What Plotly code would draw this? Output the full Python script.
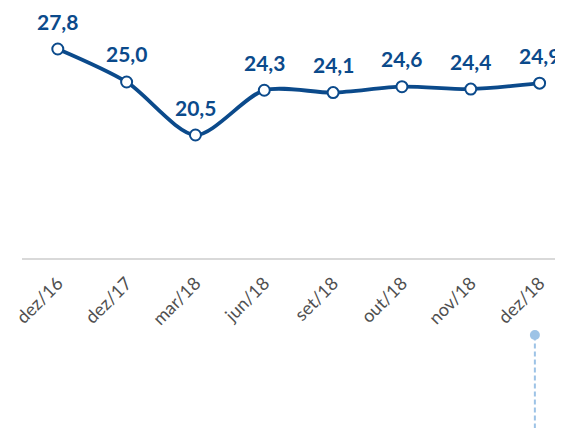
import plotly.graph_objects as go

categories = ["dez/16", "dez/17", "mar/18", "jun/18", "set/18", "out/18", "nov/18", "dez/18"]
values = [27.8, 25.0, 20.5, 24.3, 24.1, 24.6, 24.4, 24.9]
labels = ["27,8", "25,0", "20,5", "24,3", "24,1", "24,6", "24,4", "24,9"]

blue = "#0B4A8B"
fig = go.Figure()
fig.add_trace(go.Scatter(
    x=list(range(len(categories))), y=values, mode="lines+markers",
    line=dict(color=blue, width=3.8, shape="spline", smoothing=0.8),
    marker=dict(size=11, color="white", line=dict(color=blue, width=2)),
    hoverinfo="skip", showlegend=False,
))
for i, (v, t) in enumerate(zip(values, labels)):
    fig.add_annotation(x=i, y=v, text="<b>%s</b>" % t, showarrow=False, yshift=28,
                       font=dict(family="Lato, Open Sans, sans-serif", size=21, color=blue))

fig.add_shape(type="line", xref="paper", yref="paper", x0=0.948, x1=0.948, y0=-0.31, y1=-0.69,
              line=dict(color="#9DC3E6", width=2, dash="5px,3px"))
fig.add_shape(type="circle", xref="paper", yref="paper", x0=0.948 - 5/541, x1=0.948 + 5/541,
              y0=-0.308 - 5/250, y1=-0.308 + 5/250, fillcolor="#9DC3E6", line=dict(width=0))

fig.update_layout(
    width=555, height=420, margin=dict(l=14, r=0, t=0, b=170),
    plot_bgcolor="white", paper_bgcolor="white",
    xaxis=dict(range=[-0.52, 7.34], tickmode="array", tickvals=list(range(len(categories))),
               ticktext=categories, tickangle=-45, showgrid=False, zeroline=False,
               showline=True, linecolor="#D9D9D9", linewidth=1.5, ticks="",
               ticklabelstandoff=6,
               tickfont=dict(family="Lato, Open Sans, sans-serif", size=18, color="#505050")),
    yaxis=dict(range=[10.06, 31.28], visible=False, showgrid=False, zeroline=False),
)
fig.write_html("out.html")
